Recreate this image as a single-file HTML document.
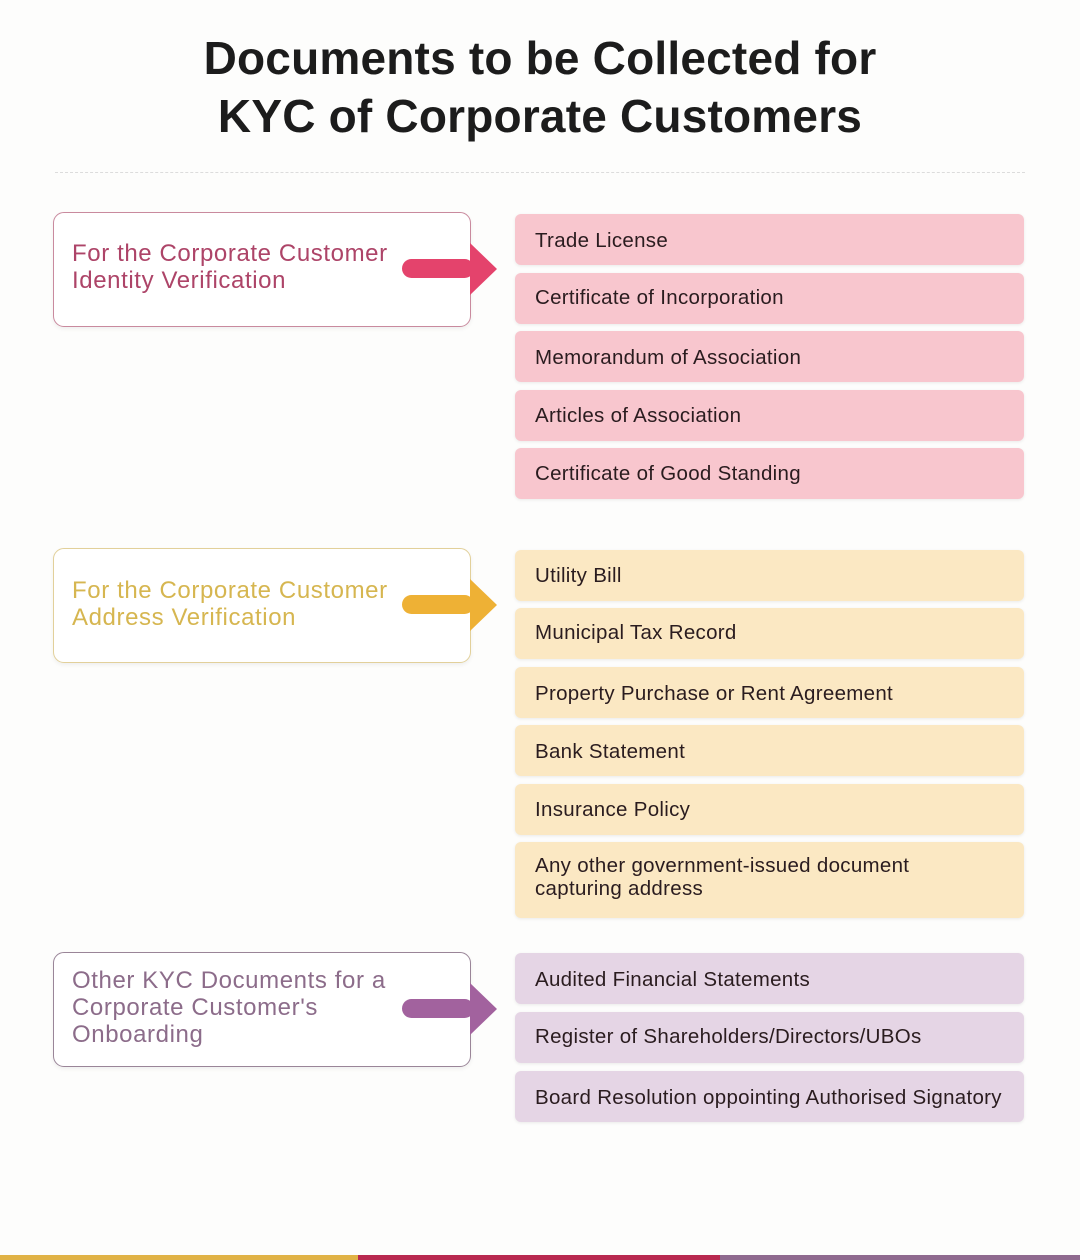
<!DOCTYPE html>
<html><head><meta charset="utf-8">
<style>
html,body{margin:0;padding:0;}
body{width:1080px;height:1260px;background:#fdfdfc;position:relative;overflow:hidden;font-family:"Liberation Sans",sans-serif;}
.title{position:absolute;left:0;width:1080px;text-align:center;font-weight:bold;font-size:46px;color:#1c1c1c;letter-spacing:0.2px;}
.dash{position:absolute;left:55px;width:970px;top:172px;border-top:1px dashed #dcdcdc;}
.lbox{position:absolute;left:53px;width:416px;background:#fff;border-radius:11px;box-shadow:0 2px 4px rgba(0,0,0,0.06);}
.ltxt{position:absolute;left:18px;font-size:24px;line-height:27px;letter-spacing:0.6px;}
.item{position:absolute;left:515px;width:509px;border-radius:6px;font-size:20.5px;letter-spacing:0.3px;color:#2a1c1f;box-shadow:0 1px 3px rgba(0,0,0,0.08);}
.item span{position:absolute;left:20px;}
.p{background:#f8c6ce;}
.y{background:#fbe8c3;}
.v{background:#e5d5e5;}
.arrow{position:absolute;left:400px;width:100px;height:56px;}
.bar{position:absolute;top:1255px;height:5px;}
</style></head><body>
<div class="title" style="top:31px;">Documents to be Collected for</div>
<div class="title" style="top:89px;">KYC of Corporate Customers</div>
<div class="dash"></div>

<!-- Section 1 -->
<div class="lbox" style="top:212px;height:113px;border:1px solid #c98a9e;">
  <div class="ltxt" style="top:27px;color:#ad4468;">For the Corporate Customer<br>Identity Verification</div>
</div>
<svg class="arrow" style="top:241px;" viewBox="0 0 100 56"><rect x="2" y="18" width="72" height="19" rx="9.5" fill="#e4436c"/><polygon points="70,2 97,28 70,54" fill="#e4436c"/></svg>

<div class="item p" style="top:214px;height:51px;"><span style="top:15px;">Trade License</span></div>
<div class="item p" style="top:273px;height:51px;"><span style="top:13px;">Certificate of Incorporation</span></div>
<div class="item p" style="top:331px;height:51px;"><span style="top:15px;">Memorandum of Association</span></div>
<div class="item p" style="top:390px;height:51px;"><span style="top:14px;">Articles of Association</span></div>
<div class="item p" style="top:448px;height:51px;"><span style="top:14px;">Certificate of Good Standing</span></div>

<!-- Section 2 -->
<div class="lbox" style="top:548px;height:113px;border:1px solid #e2d09a;">
  <div class="ltxt" style="top:28px;color:#d6b650;">For the Corporate Customer<br>Address Verification</div>
</div>
<svg class="arrow" style="top:577px;" viewBox="0 0 100 56"><rect x="2" y="18" width="72" height="19" rx="9.5" fill="#eeb135"/><polygon points="70,2 97,28 70,54" fill="#eeb135"/></svg>

<div class="item y" style="top:550px;height:51px;"><span style="top:14px;">Utility Bill</span></div>
<div class="item y" style="top:608px;height:51px;"><span style="top:13px;">Municipal Tax Record</span></div>
<div class="item y" style="top:667px;height:51px;"><span style="top:15px;">Property Purchase or Rent Agreement</span></div>
<div class="item y" style="top:725px;height:51px;"><span style="top:15px;">Bank Statement</span></div>
<div class="item y" style="top:784px;height:51px;"><span style="top:14px;">Insurance Policy</span></div>
<div class="item y" style="top:842px;height:76px;"><span style="top:12px;line-height:23px;">Any other government-issued document<br>capturing address</span></div>

<!-- Section 3 -->
<div class="lbox" style="top:952px;height:113px;border:1px solid #9a8598;">
  <div class="ltxt" style="top:14px;color:#8c6c8a;">Other KYC Documents for a<br>Corporate Customer's<br>Onboarding</div>
</div>
<svg class="arrow" style="top:981px;" viewBox="0 0 100 56"><rect x="2" y="18" width="72" height="19" rx="9.5" fill="#a2629e"/><polygon points="70,2 97,28 70,54" fill="#a2629e"/></svg>

<div class="item v" style="top:953px;height:51px;"><span style="top:15px;">Audited Financial Statements</span></div>
<div class="item v" style="top:1012px;height:51px;"><span style="top:13px;">Register of Shareholders/Directors/UBOs</span></div>
<div class="item v" style="top:1071px;height:51px;"><span style="top:15px;">Board Resolution oppointing Authorised Signatory</span></div>

<div class="bar" style="left:0;width:358px;background:#e0b245;"></div>
<div class="bar" style="left:358px;width:362px;background:#b8294f;"></div>
<div class="bar" style="left:720px;width:360px;background:#8f6a8f;"></div>
</body></html>
